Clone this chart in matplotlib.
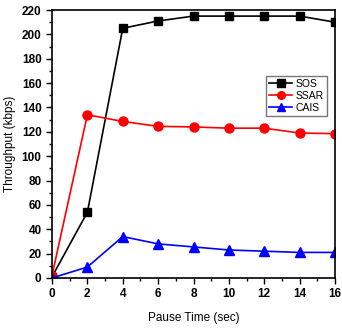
import numpy as np
import matplotlib.pyplot as plt
from matplotlib.ticker import MultipleLocator

pause = [0, 2, 4, 6, 8, 10, 12, 14, 16]
sos = [1, 54, 205, 211, 215, 215, 215, 215, 210]
ssar = [2, 134, 128.5, 124.5, 124, 123, 123, 119, 118.5]
cais = [0, 9, 34, 28, 25.5, 23, 22, 21, 21]

plt.rcParams['font.family'] = ['Liberation Sans', 'DejaVu Sans']

fig = plt.figure(figsize=(3.42, 3.30), dpi=100)
ax = fig.add_axes([52 / 342, 1 - 278 / 330, 283 / 342, 268 / 330])

ax.plot(pause, sos, color='black', marker='s', markersize=6, lw=1.2, label='SOS')
ax.plot(pause, ssar, color='red', marker='o', markersize=6.5, lw=1.2, label='SSAR')
ax.plot(pause, cais, color='blue', marker='^', markersize=6.5, lw=1.2, label='CAIS')

ax.set_xlim(0, 16)
ax.set_ylim(0, 220)
ax.xaxis.set_major_locator(MultipleLocator(2))
ax.xaxis.set_minor_locator(MultipleLocator(1))
ax.yaxis.set_major_locator(MultipleLocator(20))
ax.yaxis.set_minor_locator(MultipleLocator(10))
ax.tick_params(which='major', direction='out', length=4, width=1, labelsize=8.5)
ax.tick_params(which='minor', direction='out', length=2.5, width=1)
for lab in ax.get_xticklabels() + ax.get_yticklabels():
    lab.set_fontweight('bold')
for s in ax.spines.values():
    s.set_linewidth(1.2)

ax.set_xlabel('Pause Time (sec)', fontsize=8.5, labelpad=8)
ax.set_ylabel('Throughput (kbps)', fontsize=8.5)
ax.legend(loc='upper right', bbox_to_anchor=(0.97, 0.755), fontsize=7.5, frameon=True,
          fancybox=False, edgecolor='#555555', handlelength=2.2, borderpad=0.3,
          labelspacing=0.2, handletextpad=0.3, borderaxespad=0.0, markerscale=0.85)

fig.savefig('out.png', dpi=100)
